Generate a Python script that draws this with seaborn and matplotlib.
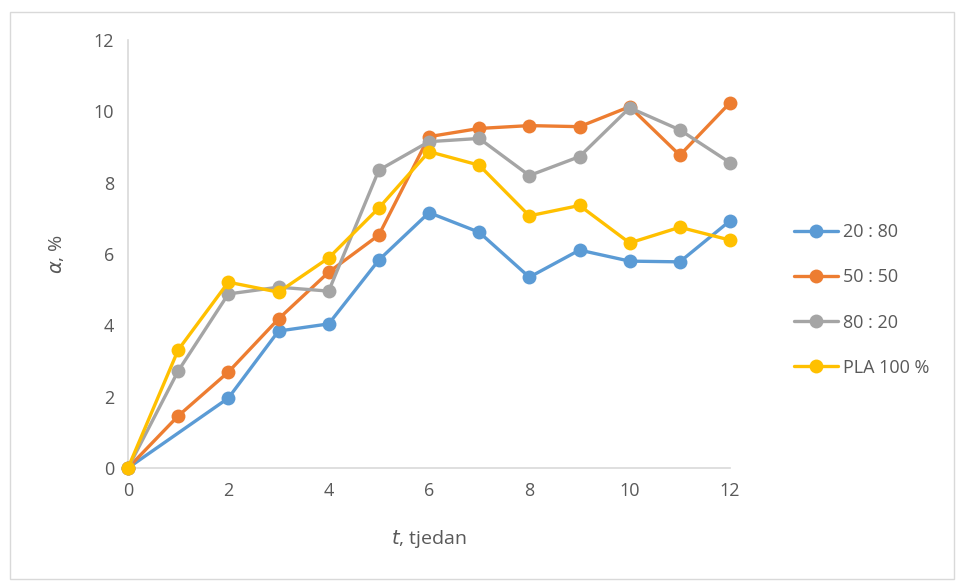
import matplotlib
matplotlib.use("Agg")
import matplotlib.pyplot as plt
import seaborn as sns
import pandas as pd
import numpy as np
from matplotlib.patches import Rectangle

weeks = [0, 1, 2, 3, 4, 5, 6, 7, 8, 9, 10, 11, 12]
s_20_80 = [0, np.nan, 1.96, 3.84, 4.04, 5.83, 7.16, 6.61, 5.35, 6.11, 5.80, 5.78, 6.93]
s_50_50 = [0, 1.46, 2.69, 4.18, 5.49, 6.53, 9.29, 9.52, 9.60, 9.57, 10.13, 8.77, 10.24]
s_80_20 = [0, 2.72, 4.88, 5.07, 4.96, 8.35, 9.15, 9.24, 8.20, 8.73, 10.10, 9.48, 8.56]
s_pla = [0, 3.31, 5.21, 4.93, 5.89, 7.29, 8.87, 8.49, 7.07, 7.36, 6.31, 6.75, 6.39]
series_names = ["20 : 80", "50 : 50", "80 : 20", "PLA 100 %"]
colors = ["#5B9BD5", "#ED7D31", "#A5A5A5", "#FFC000"]

rows = []
for name, vals in zip(series_names, [s_20_80, s_50_50, s_80_20, s_pla]):
    for w, v in zip(weeks, vals):
        if not np.isnan(v):
            rows.append({"t": w, "alpha": v, "series": name})
df = pd.DataFrame(rows)

sns.set_style("white")
plt.rcParams['font.family'] = ['Open Sans', 'DejaVu Sans']

fig = plt.figure(figsize=(9.56, 5.81), dpi=100)
ax = fig.add_axes([128/956, 1-468/581, (730-128)/956, (468-40)/581])

sns.lineplot(data=df, x="t", y="alpha", hue="series", hue_order=series_names,
             palette=colors, marker="o", markersize=10, markeredgewidth=0,
             linewidth=2.4, ax=ax, sort=True, legend=True)
for i, ln in enumerate(ax.get_lines()):
    ln.set_clip_on(False)
    ln.set_zorder(3 + i)

ax.set_xlim(0, 12)
ax.set_ylim(0, 12)
ax.set_xticks(range(0, 13, 2))
ax.set_yticks(range(0, 13, 2))
for sp in ["top", "right"]:
    ax.spines[sp].set_visible(False)
for sp in ["left", "bottom"]:
    ax.spines[sp].set_color("#D9D9D9")
    ax.spines[sp].set_linewidth(1.2)
ax.tick_params(axis="both", length=0, labelsize=13, labelcolor="#595959", pad=10)

ax.set_xlabel("$\\it{t}$, tjedan", fontsize=14, color="#595959", labelpad=20)
ax.set_ylabel("$\\it{\\alpha}$, %", fontsize=14, color="#595959", labelpad=20)

leg = ax.legend(loc="center left", bbox_to_anchor=(778/956, 1-300/581),
                bbox_transform=fig.transFigure, frameon=False, fontsize=13,
                handlelength=2.4, labelspacing=1.5, handletextpad=0.3,
                labelcolor="#595959")
for h in leg.get_lines():
    h.set_linewidth(2.4)
    h.set_markersize(10)

fig.patches.append(Rectangle((10/956, 2/581), 944/956, 567/581, transform=fig.transFigure,
                             fill=False, edgecolor="#D9D9D9", linewidth=1))

fig.savefig("out.png", dpi=100)
